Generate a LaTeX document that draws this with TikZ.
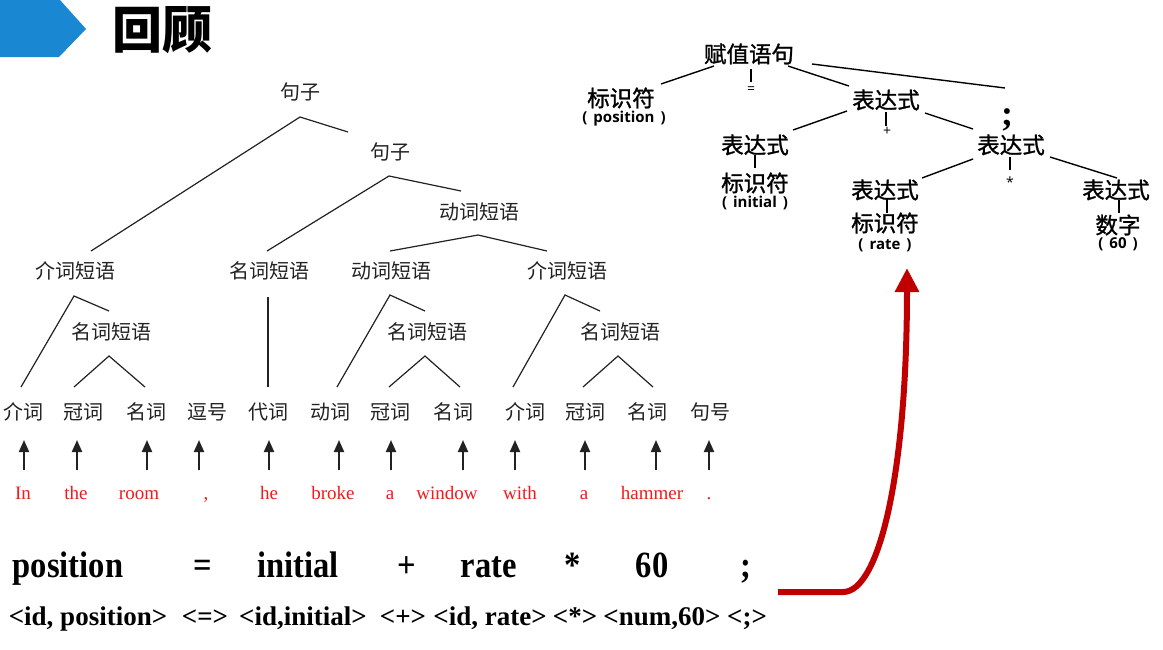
\documentclass[tikz,border=0pt]{standalone}
\usepackage{fontspec}
\setmainfont{Liberation Serif}
\newfontfamily\cjk{Noto Sans CJK SC}
\newfontfamily\cjkheavy[FakeBold=1.2]{Noto Sans CJK SC}
\newfontfamily\uisans{Open Sans}
\usetikzlibrary{arrows.meta}
\definecolor{ink}{HTML}{222222}
\definecolor{hdrblue}{HTML}{1A87D2}
\definecolor{wordred}{HTML}{EE1C1C}
\definecolor{arrowred}{HTML}{C00000}
\newcommand{\narrowtext}[1]{\scalebox{0.88}[1]{#1}}
\newcommand{\paren}[1]{(\hspace{6pt}#1\hspace{6pt})}
\begin{document}
\begin{tikzpicture}[x=1pt,y=-1pt,
  ltxt/.style={font=\cjk\fontsize{20}{20}\selectfont, text=ink, inner sep=0pt},
  word/.style={font=\fontsize{19}{19}\selectfont, text=wordred, inner sep=0pt},
  rtxt/.style={font=\cjkheavy\fontsize{22.5}{22.5}\selectfont, inner sep=0pt},
  note/.style={font=\uisans\bfseries\fontsize{15}{15}\selectfont, inner sep=0pt},
  sym/.style={font=\uisans\fontsize{14}{14}\selectfont, inner sep=0pt},
  tline/.style={draw=ink, line width=1.2pt},
  rline/.style={draw=black, line width=1.4pt},
  uparrow/.style={draw=ink, line width=2pt, -{Triangle[width=10pt,length=12pt]}},
  src/.style={font=\bfseries\fontsize{37}{37}\selectfont, inner sep=0pt, anchor=base},
  tok/.style={font=\bfseries\fontsize{27}{27}\selectfont, inner sep=0pt, anchor=base}]

\fill[white] (0,0) rectangle (1163,649);
\useasboundingbox (0,0) rectangle (1163,649);

% ---------- header ----------
\fill[hdrblue] (0,0) -- (60,0) -- (86,29) -- (59,57) -- (0,57) -- cycle;
\node[font=\cjk\bfseries\fontsize{50}{50}\selectfont, inner sep=0pt] (title) at (162,30) {回顾};

% ---------- sentence parse tree ----------
\node[ltxt] (s1)  at (300,92)  {句子};
\node[ltxt] (s2)  at (390,152) {句子};
\node[ltxt] (vp1) at (479,212) {动词短语};
\node[ltxt] (pp1) at (75,271)  {介词短语};
\node[ltxt] (np1) at (269,271) {名词短语};
\node[ltxt] (vp2) at (391,271) {动词短语};
\node[ltxt] (pp2) at (567,271) {介词短语};
\node[ltxt] (np2) at (111,332) {名词短语};
\node[ltxt] (np3) at (427,332) {名词短语};
\node[ltxt] (np4) at (620,332) {名词短语};

% branch points and branch ends
\coordinate (s1a) at (300,117);  \coordinate (s1l) at (91,251);  \coordinate (s1r) at (348,132);
\coordinate (s2a) at (389,176);  \coordinate (s2l) at (267,251); \coordinate (s2r) at (461,191);
\coordinate (v1a) at (478,235);  \coordinate (v1l) at (390,251); \coordinate (v1r) at (547,251);
\coordinate (p1a) at (74,296);   \coordinate (p1l) at (21,387);  \coordinate (p1r) at (109,311);
\coordinate (n2a) at (109,356);  \coordinate (n2l) at (74,387);  \coordinate (n2r) at (145,387);
\coordinate (n1a) at (268,297);  \coordinate (n1b) at (268,387);
\coordinate (v2a) at (390,295);  \coordinate (v2l) at (337,387); \coordinate (v2r) at (425,311);
\coordinate (n3a) at (425,356);  \coordinate (n3l) at (389,387); \coordinate (n3r) at (460,387);
\coordinate (p2a) at (565,295);  \coordinate (p2l) at (513,387); \coordinate (p2r) at (600,311);
\coordinate (n4a) at (618,356);  \coordinate (n4l) at (583,387); \coordinate (n4r) at (653,387);

\draw[tline] (s1l) -- (s1a) -- (s1r);
\draw[tline] (s2l) -- (s2a) -- (s2r);
\draw[tline] (v1l) -- (v1a) -- (v1r);
\draw[tline] (p1l) -- (p1a) -- (p1r);
\draw[tline] (n2l) -- (n2a) -- (n2r);
\draw[tline] (n1a) -- (n1b);
\draw[tline] (v2l) -- (v2a) -- (v2r);
\draw[tline] (n3l) -- (n3a) -- (n3r);
\draw[tline] (p2l) -- (p2a) -- (p2r);
\draw[tline] (n4l) -- (n4a) -- (n4r);

% parts of speech, arrows and the words
\foreach \i/\lx/\ax/\wx/\cat/\w in {
  1/23/24/23/介词/In, 2/83/77/76/冠词/the, 3/146/147/139/名词/room,
  4/207/199/206/逗号/{,}, 5/268/269/269/代词/he, 6/330/339/333/动词/broke,
  7/390/391/390/冠词/a, 8/453/463/447/名词/window, 9/525/515/520/介词/with,
  10/585/585/584/冠词/a, 11/647/656/652/名词/hammer, 12/710/709/709/句号/.} {
  \node[ltxt] (pos\i) at (\lx,412) {\cat};
  \node[word, anchor=base] (w\i) at (\wx,499) {\w};
  \coordinate (ab\i) at (\ax,470);
  \coordinate (at\i) at (\ax,440);
  \draw[uparrow] (ab\i) -- (at\i);
}

% ---------- assignment syntax tree ----------
\node[rtxt] (asg) at (749,54)  {赋值语句};
\node[rtxt] (id1) at (621,98)  {标识符};
\node[note] (id1n) at (624,119) {\paren{position}};
\node[sym]  (eq)  at (751,90)  {=};
\node[rtxt] (e1)  at (886,100) {表达式};
\node[font=\bfseries\fontsize{36}{36}\selectfont, inner sep=0pt, anchor=base] (semi) at (1007,125) {;};
\node[rtxt] (e2)  at (755,145) {表达式};
\node[rtxt] (id2) at (755,183) {标识符};
\node[note] (id2n) at (755,203) {\paren{initial}};
\node[sym]  (plus) at (887,131) {+};
\node[rtxt] (e3)  at (1011,145) {表达式};
\node[rtxt] (e4)  at (885,190) {表达式};
\node[rtxt] (id3) at (885,223) {标识符};
\node[note] (id3n) at (885,245) {\paren{rate}};
\node[sym]  (star) at (1010,182) {*};
\node[rtxt] (e5)  at (1116,190) {表达式};
\node[rtxt] (num) at (1118,225) {数字};
\node[note] (numn) at (1118,244) {\paren{60}};

\draw[rline] (714,66) -- (661,84);
\draw[rline] (751,69) -- (751,82);
\draw[rline] (788,66) -- (849,86);
\draw[rline] (812,64) -- (1005,88);
\draw[rline] (847,111) -- (793,130);
\draw[rline] (886,112) -- (886,126);
\draw[rline] (925,113) -- (973,129);
\draw[rline] (755,155) -- (755,168);
\draw[rline] (973,159) -- (922,178);
\draw[rline] (1010,157) -- (1010,170);
\draw[rline] (1050,157) -- (1117,178);
\draw[rline] (887,198) -- (887,213);
\draw[rline] (1119,200) -- (1119,213);

% ---------- source statement and its tokens ----------
\node[src] (t1) at (68,577)  {\narrowtext{position}};
\node[src] (t2) at (203,577) {\narrowtext{=}};
\node[src] (t3) at (298,577) {\narrowtext{initial}};
\node[src] (t4) at (407,577) {\narrowtext{+}};
\node[src] (t5) at (489,577) {\narrowtext{rate}};
\node[src] (t6) at (573,577) {\narrowtext{*}};
\node[src] (t7) at (652,577) {\narrowtext{60}};
\node[src] (t8) at (746,577) {\narrowtext{;}};

\node[tok] (k1) at (88,625)  {<id, position>};
\node[tok] (k2) at (205,625) {<=>};
\node[tok] (k3) at (303,625) {<id,initial>};
\node[tok] (k4) at (403,625) {<+>};
\node[tok] (k5) at (490,625) {<id, rate>};
\node[tok] (k6) at (575,625) {<*>};
\node[tok] (k7) at (662,625) {<num,60>};
\node[tok] (k8) at (747,625) {<;>};

% ---------- red arrow from the tokens up to the tree ----------
\coordinate (ra) at (778,592);
\coordinate (rb) at (843,592);
\coordinate (rc) at (907,268);
\draw[arrowred, line width=6pt, -{Triangle[width=23pt,length=24pt]}]
  (ra) -- (rb) .. controls (880,592) and (907,470) .. (rc);
\end{tikzpicture}
\end{document}
